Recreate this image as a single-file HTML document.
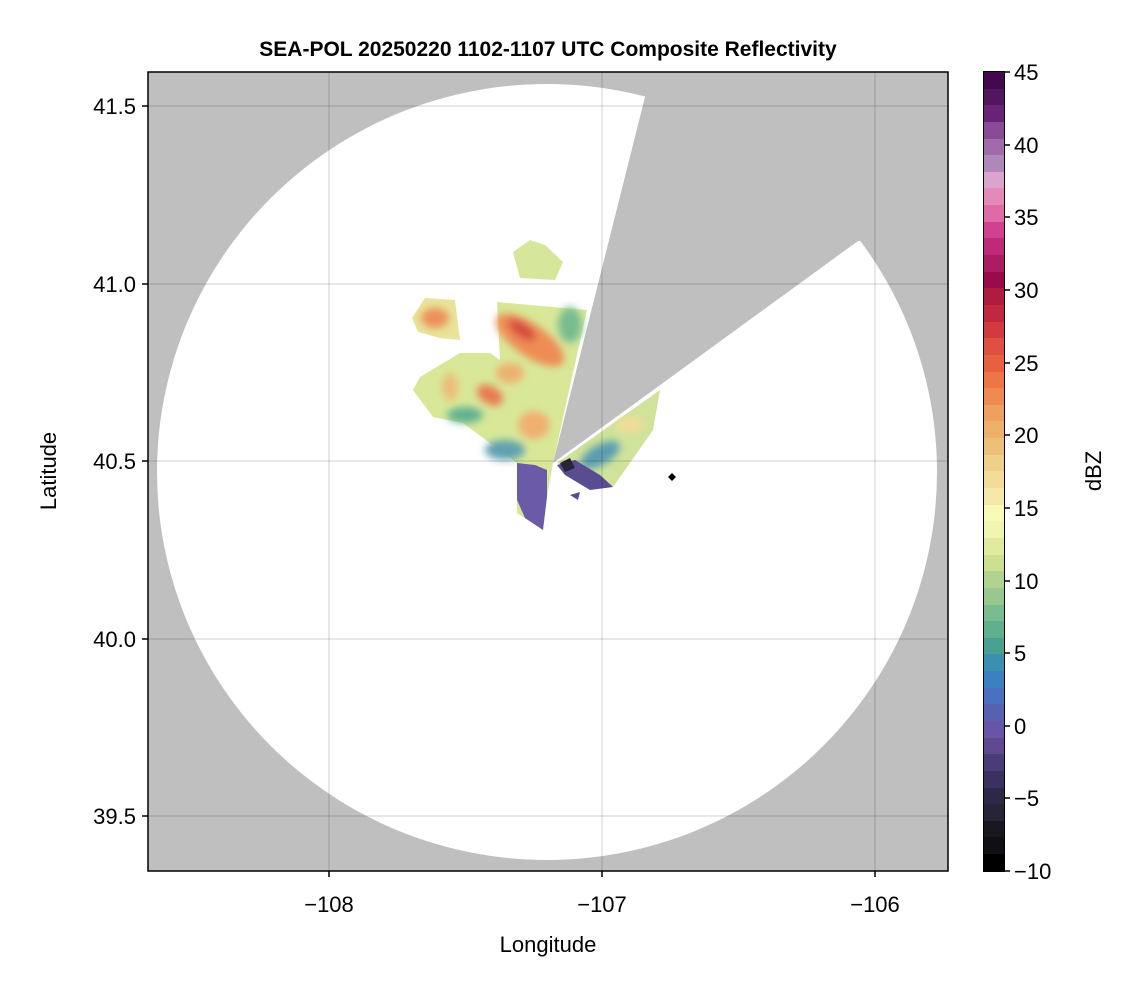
<!DOCTYPE html>
<html><head><meta charset="utf-8"><style>
body{margin:0;background:#fff;width:1146px;height:990px;overflow:hidden;font-family:"Liberation Sans",sans-serif}
</style></head><body>
<svg width="1146" height="990" xmlns="http://www.w3.org/2000/svg" style="position:absolute;left:0;top:0">
<defs><clipPath id="c"><rect x="148" y="72" width="800" height="799"/></clipPath>
<filter id="bl"><feGaussianBlur stdDeviation="4"/></filter></defs>
<g clip-path="url(#c)">
<rect x="148" y="72" width="800" height="799" fill="#bfbfbf"/>
<ellipse cx="547" cy="472" rx="390" ry="388" fill="#fff"/>
<polygon points="553,463 645,97 648,72 948,72 948,241 858,241" fill="#bfbfbf"/>
<g>
<polygon points="497,302 587,310 573,373 553,463 547,497 543,530 517,513 517,463 490,443 463,423 433,417 413,390 420,377 460,353 490,353 500,360" fill="#d8e898"/>
<polygon points="557,463 660,390 653,430 613,487 573,470" fill="#cfe39a"/>
<polygon points="412,318 425,298 455,300 460,340 440,338 418,332" fill="#e8e49a"/>
<polygon points="513,252 530,240 545,245 563,262 555,280 520,278" fill="#d6e69a"/>
<g filter="url(#bl)">
<ellipse cx="435" cy="318" rx="14" ry="10" fill="#ec9058"/>
<ellipse cx="530" cy="340" rx="40" ry="16" transform="rotate(35 530 340)" fill="#ee8c55"/>
<ellipse cx="522" cy="330" rx="16" ry="7" transform="rotate(35 522 330)" fill="#d84a40"/>
<ellipse cx="490" cy="395" rx="14" ry="9" transform="rotate(30 490 395)" fill="#e87a50"/>
<ellipse cx="510" cy="373" rx="14" ry="10" fill="#f0b070"/>
<ellipse cx="534" cy="425" rx="16" ry="14" fill="#f0b070"/>
<ellipse cx="450" cy="387" rx="8" ry="14" fill="#eebc78"/>
<ellipse cx="570" cy="325" rx="12" ry="18" fill="#78bc90"/>
<ellipse cx="465" cy="415" rx="18" ry="8" fill="#60b090"/>
<ellipse cx="505" cy="450" rx="20" ry="10" fill="#60a0b0"/>
<ellipse cx="600" cy="455" rx="22" ry="10" transform="rotate(-30 600 455)" fill="#5a9cb0"/>
<ellipse cx="630" cy="425" rx="14" ry="8" fill="#f2dc98"/>
</g>
<polygon points="517,463 535,465 547,470 547,497 543,530 525,518 517,500" fill="#6a5aa8"/>
<polygon points="557,465 575,460 600,475 613,487 590,490 565,475" fill="#5a4c90"/>
<polygon points="560,463 570,458 575,468 565,472" fill="#282438"/>
<polygon points="570,495 580,492 578,500" fill="#5a4c90"/>
<polygon points="672,473 676,477 672,481 668,477" fill="#000"/>
</g>
<g stroke="#000" stroke-opacity="0.12" stroke-width="1.5">
<line x1="329" y1="72" x2="329" y2="871"/><line x1="602" y1="72" x2="602" y2="871"/><line x1="875" y1="72" x2="875" y2="871"/>
<line x1="148" y1="106" x2="948" y2="106"/><line x1="148" y1="284" x2="948" y2="284"/><line x1="148" y1="461" x2="948" y2="461"/><line x1="148" y1="639" x2="948" y2="639"/><line x1="148" y1="816" x2="948" y2="816"/>
</g>
</g>
<rect x="148" y="72" width="800" height="799" fill="none" stroke="#000" stroke-width="1.5"/>
<g stroke="#000" stroke-width="1.5">
<line x1="329" y1="871" x2="329" y2="877"/><line x1="602" y1="871" x2="602" y2="877"/><line x1="875" y1="871" x2="875" y2="877"/>
<line x1="142" y1="106" x2="148" y2="106"/><line x1="142" y1="284" x2="148" y2="284"/><line x1="142" y1="461" x2="148" y2="461"/><line x1="142" y1="639" x2="148" y2="639"/><line x1="142" y1="816" x2="148" y2="816"/>
</g>
<g font-size="22" fill="#000" text-anchor="middle">
<text x="329" y="912">−108</text><text x="602" y="912">−107</text><text x="875" y="912">−106</text>
<text x="548" y="952">Longitude</text>
</g>
<g font-size="22" fill="#000" text-anchor="end">
<text x="136" y="114">41.5</text><text x="136" y="292">41.0</text><text x="136" y="469">40.5</text><text x="136" y="647">40.0</text><text x="136" y="824">39.5</text>
</g>
<text transform="translate(56 471) rotate(-90)" font-size="22" text-anchor="middle">Latitude</text>
<text x="548" y="56" font-size="21" font-weight="bold" text-anchor="middle">SEA-POL 20250220 1102-1107 UTC Composite Reflectivity</text>
<g stroke="#000" stroke-width="1.5">
<line x1="1004" y1="72" x2="1010" y2="72"/><line x1="1004" y1="145" x2="1010" y2="145"/><line x1="1004" y1="217" x2="1010" y2="217"/><line x1="1004" y1="290" x2="1010" y2="290"/><line x1="1004" y1="363" x2="1010" y2="363"/><line x1="1004" y1="435" x2="1010" y2="435"/><line x1="1004" y1="508" x2="1010" y2="508"/><line x1="1004" y1="581" x2="1010" y2="581"/><line x1="1004" y1="653" x2="1010" y2="653"/><line x1="1004" y1="726" x2="1010" y2="726"/><line x1="1004" y1="798" x2="1010" y2="798"/><line x1="1004" y1="871" x2="1010" y2="871"/>
</g>
<g font-size="22" fill="#000">
<text x="1014" y="80">45</text><text x="1014" y="153">40</text><text x="1014" y="225">35</text><text x="1014" y="298">30</text><text x="1014" y="371">25</text><text x="1014" y="443">20</text><text x="1014" y="516">15</text><text x="1014" y="589">10</text><text x="1014" y="661">5</text><text x="1014" y="734">0</text><text x="1014" y="806">−5</text><text x="1014" y="879">−10</text>
</g>
<text transform="translate(1101 471) rotate(-90)" font-size="22" text-anchor="middle">dBZ</text>
</svg>
<div style="position:absolute;left:984px;top:72px;width:20px;height:799px;display:flex;flex-direction:column">
<div style="flex:1;background:#43084d"></div><div style="flex:1;background:#521560"></div><div style="flex:1;background:#6a2178"></div><div style="flex:1;background:#8a4a98"></div><div style="flex:1;background:#a06aab"></div><div style="flex:1;background:#ad88b8"></div><div style="flex:1;background:#dba4cf"></div><div style="flex:1;background:#e58ab8"></div><div style="flex:1;background:#e06aa6"></div><div style="flex:1;background:#d24090"></div><div style="flex:1;background:#c02878"></div><div style="flex:1;background:#aa1c60"></div><div style="flex:1;background:#9a0a48"></div><div style="flex:1;background:#b01c40"></div><div style="flex:1;background:#c02840"></div><div style="flex:1;background:#d23a40"></div><div style="flex:1;background:#e05040"></div><div style="flex:1;background:#e86040"></div><div style="flex:1;background:#ee7545"></div><div style="flex:1;background:#ef8a50"></div><div style="flex:1;background:#eea060"></div><div style="flex:1;background:#ecb068"></div><div style="flex:1;background:#ecc078"></div><div style="flex:1;background:#eed088"></div><div style="flex:1;background:#f2dc98"></div><div style="flex:1;background:#f6e8a8"></div><div style="flex:1;background:#fafab8"></div><div style="flex:1;background:#f0f5b0"></div><div style="flex:1;background:#e0eba0"></div><div style="flex:1;background:#cce090"></div><div style="flex:1;background:#b0d490"></div><div style="flex:1;background:#98c890"></div><div style="flex:1;background:#78bc90"></div><div style="flex:1;background:#60b090"></div><div style="flex:1;background:#48a090"></div><div style="flex:1;background:#3a90b0"></div><div style="flex:1;background:#3a80c0"></div><div style="flex:1;background:#4a70c0"></div><div style="flex:1;background:#5860b0"></div><div style="flex:1;background:#6855a8"></div><div style="flex:1;background:#604890"></div><div style="flex:1;background:#4a3c78"></div><div style="flex:1;background:#3c3060"></div><div style="flex:1;background:#2e2848"></div><div style="flex:1;background:#282438"></div><div style="flex:1;background:#1a1620"></div><div style="flex:1;background:#101014"></div><div style="flex:1;background:#000"></div>
</div>
<div style="position:absolute;left:983px;top:71px;width:20px;height:799px;border:1.5px solid #000"></div>
</body></html>
